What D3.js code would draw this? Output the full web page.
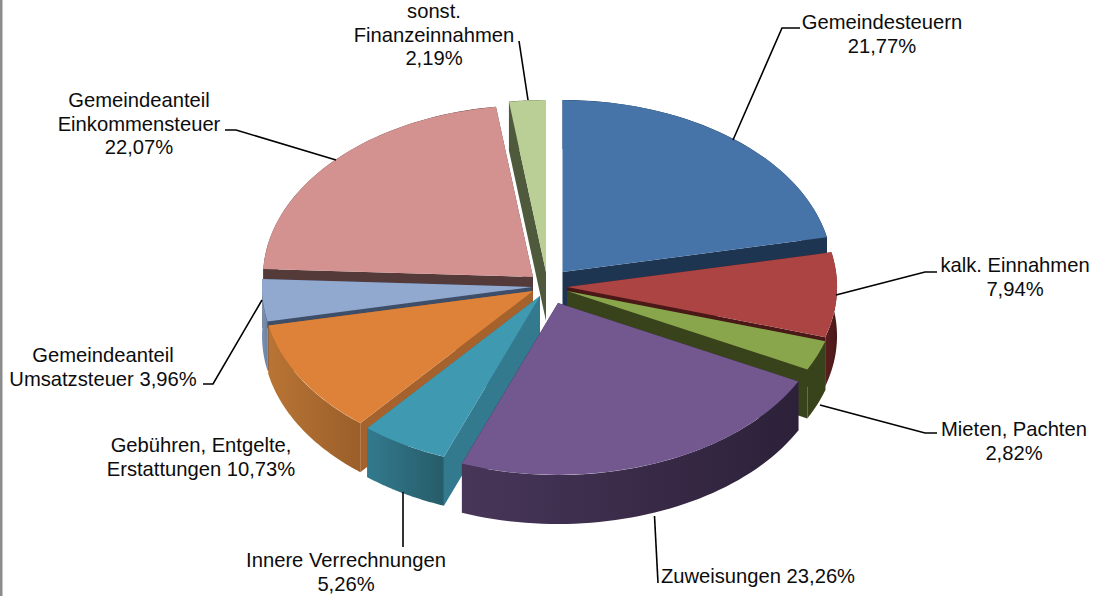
<!DOCTYPE html>
<html><head><meta charset="utf-8">
<script src="https://cdn.jsdelivr.net/npm/d3@7/dist/d3.min.js"></script>
<style>html,body{margin:0;background:#fff}svg{display:block}text{font-family:"Liberation Sans",Arial,sans-serif;font-size:20.2px;fill:#0c0c0c}</style>
</head><body><div id="c"></div>
<script>
// ---- data ----
const categories = ["Gemeindesteuern","kalk. Einnahmen","Mieten, Pachten","Zuweisungen","Innere Verrechnungen","Gebühren, Entgelte, Erstattungen","Gemeindeanteil Umsatzsteuer","Gemeindeanteil Einkommensteuer","sonst. Finanzeinnahmen"];
const values = [21.77,7.94,2.82,23.26,5.26,10.73,3.96,22.07,2.19];
const labelLines = [["Gemeindesteuern","21,77%"],["kalk. Einnahmen","7,94%"],["Mieten, Pachten","2,82%"],["Zuweisungen 23,26%"],["Innere Verrechnungen","5,26%"],["Gebühren, Entgelte,","Erstattungen 10,73%"],["Gemeindeanteil","Umsatzsteuer 3,96%"],["Gemeindeanteil","Einkommensteuer","22,07%"],["sonst.","Finanzeinnahmen","2,19%"]];
// ---- styling and layout ----
const topColors = ["#4674a8","#ab4442","#8aa64d","#735890","#3f99b1","#de8239","#92a9cf","#d39290","#b9cf95"];
const radialColors = ["#1e3552","#4a1817","#38431c","#2c2139","#337a8e","#a5622c","#3e4d68","#553a3a","#4f5a3c"];
const wallStops = [["#1e3552","#1e3552"],["#5a1f1e","#4a1817"],["#38431c","#38431c"],["#483659","#2c2139"],["#337a8e","#265c69"],["#b87434","#9b5f2a"],["#7c91b0","#6d81a0"],["#553a3a","#553a3a"],["#4f5a3c","#4f5a3c"]];
const apexX = [562.5,567,567,558,540,533,532,533,546];
const apexY = [272,287,291,303,296,291,287,277,272];
const paintOrder = [8,7,6,5,4,0,1,2,3];
const labelX = [882,1015,1014,758,346,201,103,139,434];
const labelY = [29,272,436,583,567,452,362,107,18];
const leaders = [
 [[800,28],[782,28],[733,140]],
 [[937,272],[925,272],[836,295]],
 [[937,433],[925,433],[820,405]],
 [[658,583],[654.5,516]],
 [[403,547],[403,492]],
 [],
 [[203,384],[213,384],[262,300]],
 [[225,130],[236,130],[336,160]],
 [[519,41],[528,100]]
];
const W = 1098, H = 596, rx = 270, ry = 172, depth = 49;

const svg = d3.select("#c").append("svg").attr("width",W).attr("height",H);
svg.append("rect").attr("x",0).attr("y",0).attr("width",2.5).attr("height",H).attr("fill","#8c8c8c");
const defs = svg.append("defs");

const slices = d3.pie().sort(null).value(d=>d)(values);
const arc = d3.arc().innerRadius(0).outerRadius(rx);
const yScale = ry/rx;
const pt = (i,a,dy=0)=>[apexX[i]+rx*Math.sin(a), apexY[i]-ry*Math.cos(a)+dy];
const line = d3.line();

paintOrder.forEach(i=>{
  const s = slices[i], g = svg.append("g");
  const a0 = s.startAngle, a1 = s.endAngle;
  const apex=[apexX[i],apexY[i]], apexLow=[apexX[i],apexY[i]+depth];
  // radial walls
  [a0,a1].forEach(a=>{
    g.append("path").attr("d",line([apex,pt(i,a),pt(i,a,depth),apexLow])+"Z")
     .attr("fill",radialColors[i]);
  });
  // outer wall
  const n = 48, topPts=d3.range(n+1).map(k=>pt(i,a0+(a1-a0)*k/n));
  const lowPts=d3.range(n,-1,-1).map(k=>pt(i,a0+(a1-a0)*k/n,depth));
  const xs = topPts.map(p=>p[0]);
  const gid="w"+i;
  const lg=defs.append("linearGradient").attr("id",gid).attr("gradientUnits","userSpaceOnUse")
    .attr("x1",d3.min(xs)).attr("x2",d3.max(xs)).attr("y1",0).attr("y2",0);
  lg.append("stop").attr("offset",0).attr("stop-color",wallStops[i][0]);
  lg.append("stop").attr("offset",1).attr("stop-color",wallStops[i][1]);
  g.append("path").attr("d",line(topPts.concat(lowPts))+"Z").attr("fill","url(#"+gid+")");
  // top face
  g.append("path").attr("d",arc(s))
   .attr("transform",`translate(${apexX[i]},${apexY[i]}) scale(1,${yScale})`)
   .attr("fill",topColors[i]);
});

// leader lines
svg.append("g").selectAll("path").data(leaders.filter(l=>l.length)).join("path")
  .attr("d",d=>line(d)).attr("fill","none").attr("stroke","#000").attr("stroke-width",1.6);

// labels
labelLines.forEach((lines,i)=>{
  const t=svg.append("text").attr("text-anchor","middle");
  lines.forEach((l,k)=>t.append("tspan").attr("x",labelX[i]).attr("y",labelY[i]+k*23.5).text(l));
});
</script></body></html>
